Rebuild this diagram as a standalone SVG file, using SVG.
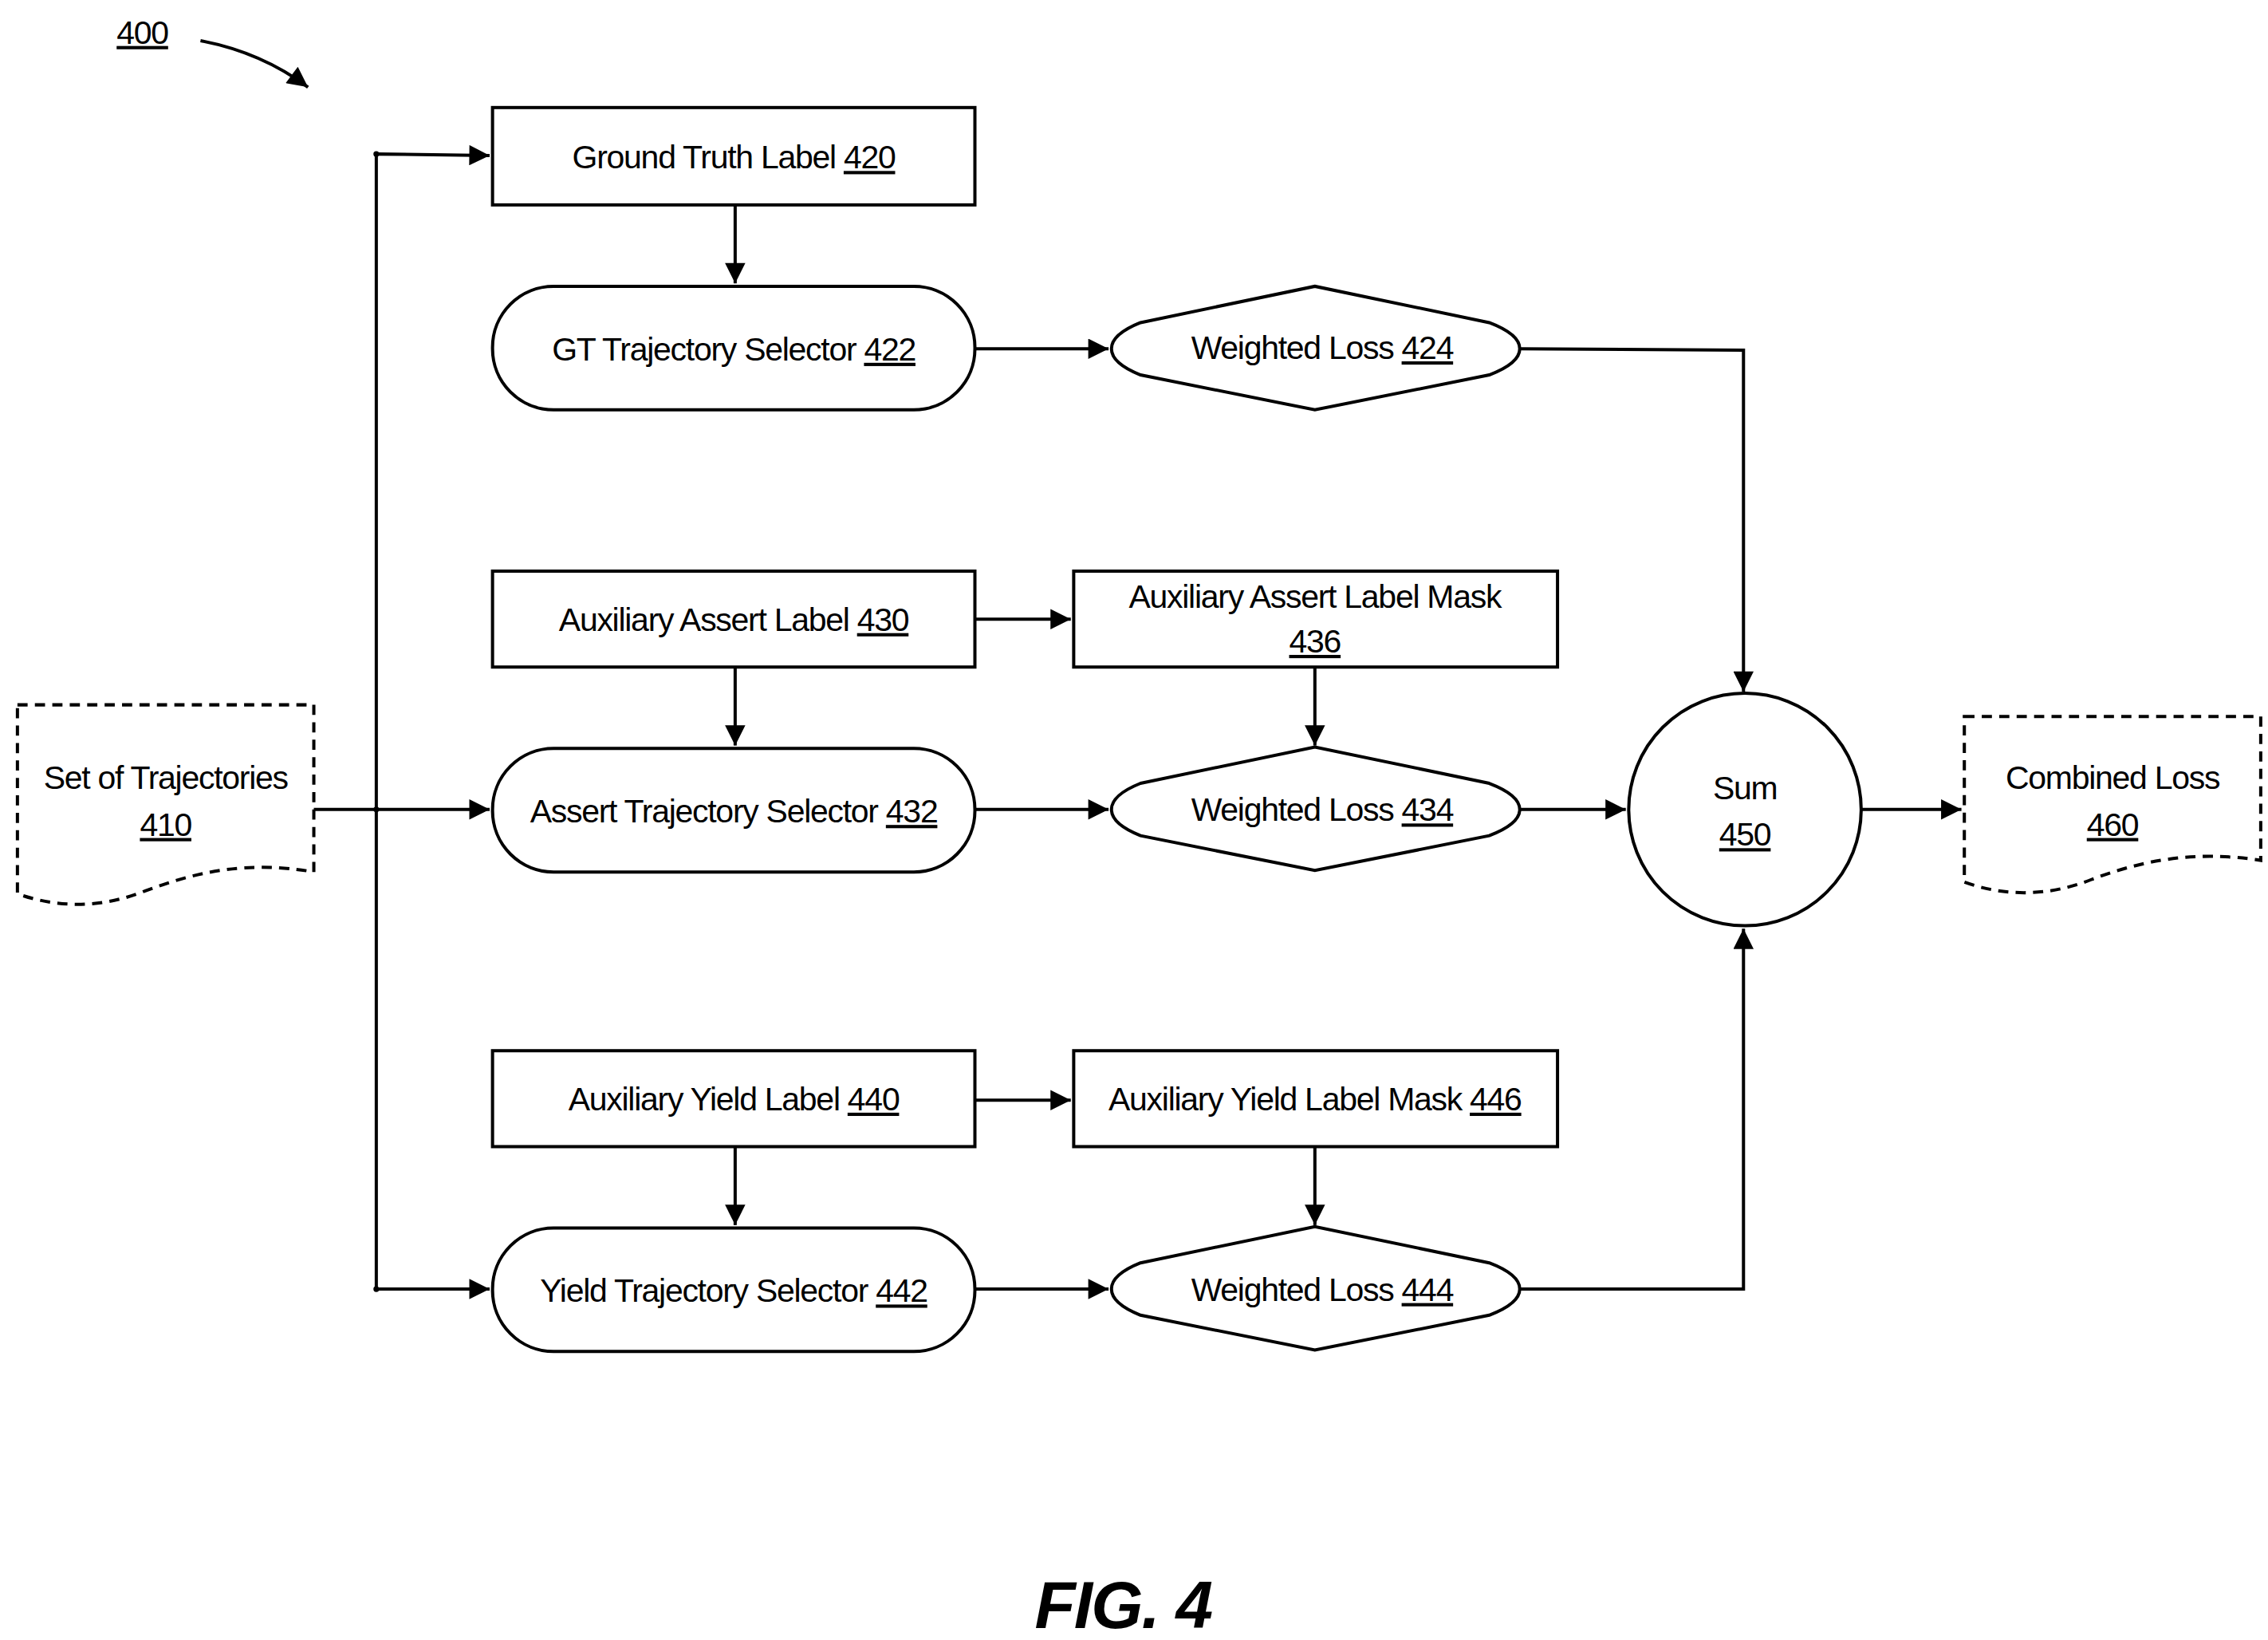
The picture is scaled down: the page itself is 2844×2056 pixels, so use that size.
<svg xmlns="http://www.w3.org/2000/svg" width="2844" height="2056" viewBox="0 0 2844 2056">
<style>
.s{fill:#fff;stroke:#000;stroke-width:2.2}
.d{fill:#fff;stroke:#000;stroke-width:2.2;stroke-dasharray:7,5}
.c{fill:none;stroke:#000;stroke-width:2.2}
text{font-family:"Liberation Sans Narrow","Liberation Sans",Arial,sans-serif;font-size:22.5px;letter-spacing:-0.7px;text-anchor:middle;fill:#000}
.u{text-decoration:underline}
</style>
<defs>
<marker id="a" viewBox="0 0 10 10" refX="10" refY="5" markerWidth="16" markerHeight="14" markerUnits="userSpaceOnUse" orient="auto"><path d="M0,0 L10,5 L0,10 Z"/></marker>
<path id="wl" d="M785,-18 L905,-43 L1025,-18 Q1046,-10 1046,0 Q1046,10 1025,18 L905,42 L785,18 Q765,10 765,0 Q765,-10 785,-18 Z"/>
</defs>
<rect width="2844" height="2056" fill="#fff"/>
<g transform="scale(1.8219)">
<g id="n400"><text x="98" y="30" class="u">400</text><path class="c" d="M138,28 Q180,36 212,60" marker-end="url(#a)"/></g>
<g id="n420"><rect class="s" x="339" y="74" width="332" height="67"/><text x="505" y="116">Ground Truth Label <tspan class="u">420</tspan></text></g>
<g id="n422"><rect class="s" x="339" y="197" width="332" height="85" rx="42"/><text x="505" y="248">GT Trajectory Selector <tspan class="u">422</tspan></text></g>
<g id="n424"><use href="#wl" class="s" y="240"/><text x="910" y="247">Weighted Loss <tspan class="u">424</tspan></text></g>
<g id="n430"><rect class="s" x="339" y="393" width="332" height="66"/><text x="505" y="434">Auxiliary Assert Label <tspan class="u">430</tspan></text></g>
<g id="n436"><rect class="s" x="739" y="393" width="333" height="66"/><text x="905" y="418">Auxiliary Assert Label Mask</text><text x="905" y="449" class="u">436</text></g>
<g id="n432"><rect class="s" x="339" y="515" width="332" height="85" rx="42"/><text x="505" y="566">Assert Trajectory Selector <tspan class="u">432</tspan></text></g>
<g id="n434"><use href="#wl" class="s" y="557"/><text x="910" y="565">Weighted Loss <tspan class="u">434</tspan></text></g>
<g id="n440"><rect class="s" x="339" y="723" width="332" height="66"/><text x="505" y="764">Auxiliary Yield Label <tspan class="u">440</tspan></text></g>
<g id="n446"><rect class="s" x="739" y="723" width="333" height="66"/><text x="905" y="764">Auxiliary Yield Label Mask <tspan class="u">446</tspan></text></g>
<g id="n442"><rect class="s" x="339" y="845" width="332" height="85" rx="42"/><text x="505" y="896">Yield Trajectory Selector <tspan class="u">442</tspan></text></g>
<g id="n444"><use href="#wl" class="s" y="887"/><text x="910" y="895">Weighted Loss <tspan class="u">444</tspan></text></g>
<g id="n450"><circle class="s" cx="1201" cy="557" r="80"/><text x="1201" y="550">Sum</text><text x="1201" y="582" class="u">450</text></g>
<g id="n410"><path class="d" d="M12,485 H216 V600 C170,592 135,600 100,613 C70,625 40,625 12,615 Z"/><text x="114" y="543">Set of Trajectories</text><text x="114" y="575" class="u">410</text></g>
<g id="n460"><path class="d" d="M1352,493 H1556 V592 C1510,585 1475,592 1440,605 C1410,617 1380,617 1352,607 Z"/><text x="1454" y="543">Combined Loss</text><text x="1454" y="575" class="u">460</text></g>
<g id="edges">
<path class="c" d="M216,557 H337" marker-end="url(#a)"/>
<path class="c" d="M259,106 V887"/>
<path class="c" d="M259,106 L337,107" marker-end="url(#a)"/>
<path class="c" d="M259,887 H337" marker-end="url(#a)"/>
<circle cx="259" cy="106" r="2"/><circle cx="259" cy="887" r="2"/><circle cx="259" cy="557" r="2"/>
<path class="c" d="M506,141 V195" marker-end="url(#a)"/>
<path class="c" d="M671,240 H763" marker-end="url(#a)"/>
<path class="c" d="M1046,240 L1200,241 V476" marker-end="url(#a)"/>
<path class="c" d="M671,426 H737" marker-end="url(#a)"/>
<path class="c" d="M506,459 V513" marker-end="url(#a)"/>
<path class="c" d="M905,459 V513" marker-end="url(#a)"/>
<path class="c" d="M671,557 H763" marker-end="url(#a)"/>
<path class="c" d="M1046,557 H1119" marker-end="url(#a)"/>
<path class="c" d="M1281,557 H1350" marker-end="url(#a)"/>
<path class="c" d="M671,757 H737" marker-end="url(#a)"/>
<path class="c" d="M506,789 V843" marker-end="url(#a)"/>
<path class="c" d="M905,789 V843" marker-end="url(#a)"/>
<path class="c" d="M671,887 H763" marker-end="url(#a)"/>
<path class="c" d="M1046,887 H1200 V639" marker-end="url(#a)"/>
</g>
<text x="773" y="1120" style="font-family:'Liberation Sans',Arial,sans-serif;font-size:46px;font-style:italic;font-weight:bold;letter-spacing:-1px">FIG. 4</text>
</g>
</svg>
